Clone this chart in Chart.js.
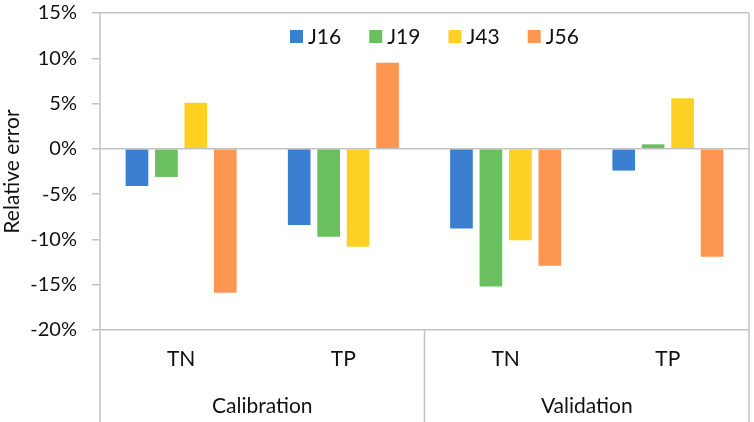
<!DOCTYPE html>
<html><head><meta charset="utf-8">
<script src="https://cdn.jsdelivr.net/npm/chart.js@4/dist/chart.umd.min.js"></script>
<style>html,body{margin:0;padding:0;background:#fff}#wrap{width:754px;height:422px}</style>
</head><body><div id="wrap"><canvas id="c" width="754" height="422"></canvas></div>
<script>
const categories = ['TN', 'TP', 'TN', 'TP'];
const groups = ['Calibration', 'Validation'];
const seriesNames = ['J16', 'J19', 'J43', 'J56'];
const j16 = [-4.1, -8.4, -8.8, -2.4];
const j19 = [-3.1, -9.7, -15.2, 0.5];
const j43 = [5.1, -10.8, -10.1, 5.6];
const j56 = [-15.9, 9.5, -12.9, -11.9];
const yMin = -20, yMax = 15, yStep = 5;
const colors = ['#3b7fd1', '#6abf5e', '#fdd023', '#fd9650'];
const seriesValues = [j16, j19, j43, j56];

const FONT = 'Lato, "Open Sans", sans-serif';
const TXT = '#111111';
const LINE = '#c3c3c3';

const extras = {
  id: 'extras',
  afterDraw(chart) {
    const ctx = chart.ctx;
    const a = chart.chartArea;
    const xs = chart.scales.x;
    const H = chart.height;
    ctx.save();
    ctx.strokeStyle = LINE;
    ctx.lineWidth = 1.5;
    const mid = (xs.getPixelForValue(1) + xs.getPixelForValue(2)) / 2;
    ctx.beginPath();
    ctx.moveTo(a.left, a.top); ctx.lineTo(a.left, H);
    ctx.moveTo(a.right, a.top); ctx.lineTo(a.right, H);
    ctx.moveTo(mid, a.bottom); ctx.lineTo(mid, H);
    ctx.stroke();
    // group labels
    ctx.fillStyle = TXT;
    ctx.font = '21px ' + FONT;
    ctx.textAlign = 'center';
    ctx.textBaseline = 'middle';
    ctx.fillText(groups[0], (a.left + mid) / 2, 406);
    ctx.fillText(groups[1], (mid + a.right) / 2, 406);
    // legend
    ctx.font = '21px ' + FONT;
    ctx.textAlign = 'left';
    let x = a.left + 190;
    const y = a.top + 23.5;
    chart.data.datasets.forEach((ds) => {
      ctx.fillStyle = ds.backgroundColor;
      ctx.fillRect(x, y - 6.5, 13, 13);
      ctx.fillStyle = TXT;
      ctx.fillText(ds.label, x + 18, y + 1);
      x += 18 + ctx.measureText(ds.label).width + 28;
    });
    ctx.restore();
  }
};

new Chart(document.getElementById('c'), {
  type: 'bar',
  data: {
    labels: categories,
    datasets: seriesNames.map((n, i) => ({
      label: n,
      data: seriesValues[i],
      backgroundColor: colors[i],
      borderWidth: 0,
      categoryPercentage: 0.726,
      barPercentage: 0.77
    }))
  },
  options: {
    responsive: false,
    animation: false,
    layout: { padding: { top: 13, right: 5, left: 0, bottom: 0 } },
    plugins: { legend: { display: false }, tooltip: { enabled: false } },
    scales: {
      x: {
        grid: { display: false, drawTicks: false },
        border: { display: false },
        ticks: { color: TXT, font: { family: FONT, size: 21 }, padding: 17 },
        afterFit(s) { s.height = 92; }
      },
      y: {
        min: yMin, max: yMax,
        ticks: {
          stepSize: yStep, color: TXT, padding: 15,
          font: { family: FONT, size: 20 },
          callback: (v) => v + '%'
        },
        grid: {
          color: (c) => (c.tick && (c.tick.value === 0 || c.tick.value === yMax || c.tick.value === yMin)) ? LINE : 'rgba(0,0,0,0)',
          tickColor: LINE, tickLength: 8, lineWidth: 1.5
        },
        border: { display: false },
        title: { display: true, text: 'Relative error', color: TXT, font: { family: FONT, size: 21 }, padding: { top: 0, bottom: 0 } },
        afterFit(s) { s.width = 100; s.paddingTop = 0; s.paddingBottom = 0; }
      }
    }
  },
  plugins: [extras]
});
</script></body></html>
